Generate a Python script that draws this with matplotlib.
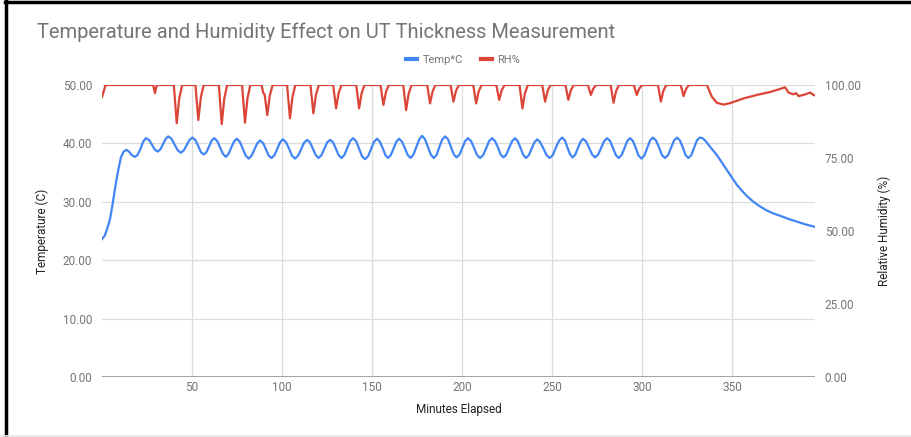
import matplotlib
matplotlib.use("Agg")
import matplotlib.pyplot as plt
from matplotlib.lines import Line2D

plt.rcParams['font.family'] = ['Roboto', 'DejaVu Sans']

title = "Temperature and Humidity Effect on UT Thickness Measurement"
x_label = "Minutes Elapsed"
y_left_label = "Temperature (C)"
y_right_label = "Relative Humidity (%)"
series_names = ["Temp*C", "RH%"]
x_ticks = [50, 100, 150, 200, 250, 300, 350]
y_left_ticks = [0, 10, 20, 30, 40, 50]
y_right_ticks = [0, 25, 50, 75, 100]

temp_minutes = [
    0, 1.5, 3, 4.5, 6, 7.5, 9, 10.5, 12, 13.7, 15, 16.5, 18.3, 19.7, 21.3, 22.9, 24.4,
    26.1, 27.7, 29.4, 31.0, 32.5, 33.9, 35.4, 36.8,
    38.6, 40.3, 42.1, 43.8, 45.4, 47.0, 48.6, 50.2,
    51.8, 53.4, 54.9, 56.5, 58.0, 59.5, 60.9, 62.4,
    64.0, 65.6, 67.2, 68.8, 70.3, 71.8, 73.3, 74.8,
    76.5, 78.2, 79.8, 81.5, 83.1, 84.7, 86.2, 87.8,
    88.6, 89.6, 91.0, 92.6, 94.2, 95.8, 97.4, 98.9, 100.5,
    102.2, 103.9, 105.5, 107.2, 108.9, 110.6, 112.2, 113.9,
    115.5, 117.1, 118.7, 120.3, 121.9, 123.5, 125.1, 126.7,
    128.3, 129.9, 131.4, 133.0, 134.6, 136.2, 137.8, 139.4,
    141.1, 142.8, 144.4, 146.1, 147.8, 149.5, 151.1, 152.8,
    154.3, 155.9, 157.4, 158.9, 160.4, 162.0, 163.5, 165.0,
    166.6, 168.2, 169.8, 171.4, 173.0, 174.6, 176.2, 177.8,
    179.4, 181.0, 182.6, 184.2, 185.8, 187.4, 189.0, 190.6,
    192.2, 193.8, 195.4, 197.0, 198.6, 200.2, 201.7, 203.3,
    205.0, 206.7, 208.3, 210.0, 211.7, 213.4, 215.0, 216.7,
    218.3, 219.9, 221.4, 223.0, 224.6, 226.2, 227.8, 229.4,
    230.9, 232.5, 234.0, 235.5, 237.1, 238.6, 240.2, 241.7,
    243.4, 245.2, 246.9, 248.6, 250.4, 252.1, 253.9, 255.6,
    257.1, 258.5, 260.0, 261.4, 262.9, 264.3, 265.8, 267.2,
    268.9, 270.6, 272.2, 273.9, 275.6, 277.3, 278.9, 280.6,
    282.2, 283.8, 285.4, 287.0, 288.6, 290.2, 291.7, 293.3,
    294.9, 296.5, 298.0, 299.6, 301.2, 302.8, 304.4, 306.0,
    307.7, 309.4, 311.0, 312.7, 314.4, 316.1, 317.7, 319.4,
    321.0, 322.6, 324.1, 325.7, 327.3, 328.9, 330.4, 332.0,
    333.5, 335.0, 337.8, 341.5, 345.2, 348.9, 352.6, 356.3,
    358.5, 361.8, 365.0, 369.3, 373.0, 376.7, 381.0, 385.9, 390.0, 396.0,
]
temp_values = [
    23.6, 24.2, 25.5, 27.1, 29.8, 32.8, 35.4, 37.6, 38.6, 38.9, 38.6, 38.0, 37.7, 38.0, 39.0, 40.3, 40.9,
    40.6, 39.8, 38.9, 38.6, 39.0, 39.9, 40.8, 41.2,
    40.8, 39.8, 38.8, 38.4, 38.8, 39.7, 40.6, 41.0,
    40.6, 39.6, 38.5, 38.1, 38.5, 39.5, 40.5, 40.9,
    40.4, 39.3, 38.2, 37.7, 38.2, 39.3, 40.3, 40.8,
    40.3, 39.1, 37.9, 37.4, 37.9, 39.0, 40.0, 40.5,
    40.3, 40.0, 39.0, 37.9, 37.5, 38.0, 39.1, 40.2, 40.7,
    40.2, 39.1, 37.9, 37.4, 37.9, 39.0, 40.1, 40.6,
    40.2, 39.1, 38.0, 37.5, 38.0, 39.1, 40.2, 40.6,
    40.2, 39.1, 38.0, 37.5, 38.0, 39.2, 40.4, 40.9,
    40.4, 39.1, 37.8, 37.3, 37.8, 39.1, 40.3, 40.8,
    40.3, 39.2, 38.0, 37.5, 38.0, 39.2, 40.3, 40.8,
    40.3, 39.2, 38.0, 37.5, 38.1, 39.4, 40.7, 41.3,
    40.7, 39.4, 38.1, 37.5, 38.0, 39.4, 40.7, 41.2,
    40.7, 39.4, 38.1, 37.6, 38.1, 39.3, 40.4, 40.9,
    40.4, 39.2, 38.0, 37.5, 38.0, 39.2, 40.4, 40.9,
    40.4, 39.3, 38.1, 37.6, 38.1, 39.3, 40.4, 40.9,
    40.4, 39.2, 38.0, 37.5, 38.0, 39.1, 40.2, 40.7,
    40.2, 39.1, 38.0, 37.5, 38.0, 39.3, 40.5, 41.0,
    40.5, 39.3, 38.1, 37.6, 38.1, 39.2, 40.3, 40.8,
    40.3, 39.2, 38.1, 37.6, 38.1, 39.3, 40.4, 40.9,
    40.4, 39.2, 38.0, 37.5, 38.0, 39.2, 40.4, 40.9,
    40.4, 39.2, 37.9, 37.4, 37.9, 39.2, 40.5, 41.0,
    40.5, 39.3, 38.0, 37.5, 38.0, 39.3, 40.5, 41.0,
    40.5, 39.3, 38.0, 37.5, 38.0, 39.3, 40.5, 41.0,
    40.9, 40.5, 39.4, 38.0, 36.3, 34.6, 32.9, 31.6,
    30.9, 30.0, 29.3, 28.5, 28.0, 27.6, 27.1, 26.6, 26.2, 25.7,
]

rh_minutes = [
    0, 2, 28.4, 29.4, 30.4,
    39.9, 41.5, 42.9, 44.5,
    51.9, 53.5, 54.9, 56.5,
    64.9, 66.5, 67.9, 69.5,
    77.8, 79.4, 80.8, 82.4,
    88.6, 89.6, 90.3, 91.8, 93.2, 94.8,
    102.8, 104.4, 105.8, 107.4,
    115.8, 117.4, 118.8, 120.4,
    128.4, 130.0, 131.4, 133.0,
    141.2, 142.8, 144.2, 145.8,
    154.7, 156.3, 157.7, 159.3,
    167.3, 168.9, 170.3, 171.9,
    180.6, 182.2, 183.6, 185.2,
    193.6, 195.2, 196.6, 198.2,
    206.2, 207.8, 209.2, 210.8,
    219.0, 220.6, 222.0, 223.6,
    231.9, 233.5, 234.9, 236.5,
    244.5, 246.1, 247.5, 249.1,
    257.4, 259.0, 260.4, 262.0,
    269.9, 271.5, 272.9, 274.5,
    282.5, 284.1, 285.5, 287.1,
    295.4, 297.0, 298.4, 300.0,
    308.8, 310.4, 311.8, 313.4,
    321.4, 323.0, 324.4, 326.0,
    335.9, 338.7, 341.5, 345.2, 348.9, 356.3, 363.7, 371.1,
    379.4, 381.3, 384.0, 385.5, 386.9, 389.6, 393.3, 395.2, 396.0,
]
rh_values = [
    95.9, 100, 100, 97.2, 100,
    100, 86.9, 95.4, 100,
    100, 88.0, 95.8, 100,
    100, 86.6, 95.3, 100,
    100, 87.1, 95.5, 100,
    100, 97.2, 96.8, 89.7, 96.4, 100,
    100, 88.6, 96.0, 100,
    100, 90.3, 96.6, 100,
    100, 92.0, 97.2, 100,
    100, 92.0, 97.2, 100,
    100, 93.2, 97.6, 100,
    100, 91.4, 97.0, 100,
    100, 93.7, 97.8, 100,
    100, 94.3, 98.0, 100,
    100, 93.7, 97.8, 100,
    100, 94.9, 98.2, 100,
    100, 92.0, 97.2, 100,
    100, 94.3, 98.0, 100,
    100, 94.9, 98.2, 100,
    100, 96.6, 98.8, 100,
    100, 93.9, 97.9, 100,
    100, 96.6, 98.8, 100,
    100, 94.3, 98.0, 100,
    100, 96.2, 98.7, 100,
    100, 96.0, 93.9, 93.3, 93.8, 95.4, 96.6, 97.6,
    99.2, 97.4, 96.8, 97.2, 96.2, 96.6, 97.4, 96.6, 96.4,
]

BLUE = "#4285F4"
RED = "#DB4437"
TICK_GRAY = "#757575"
GRID = "#dcdcdc"

W, H = 911, 437
fig = plt.figure(figsize=(W / 100, H / 100), dpi=100)
fig.patch.set_facecolor("white")

L, R, T, B = 102, 815, 85, 377
ax = fig.add_axes([L / W, 1 - B / H, (R - L) / W, (B - T) / H])
ax2 = ax.twinx()

ax.plot(temp_minutes, temp_values, color=BLUE, lw=1.6, solid_joinstyle="round", zorder=3)
ax2.plot(rh_minutes, rh_values, color=RED, lw=1.6, solid_joinstyle="round", zorder=3)

ax.set_xlim(0, 396)
ax.set_ylim(0, 50)
ax2.set_ylim(0, 100)

ax.set_xticks(x_ticks)
ax.set_xticklabels([str(v) for v in x_ticks])
ax.set_yticks(y_left_ticks)
ax.set_yticklabels(["%.2f" % v for v in y_left_ticks])
ax2.set_yticks(y_right_ticks)
ax2.set_yticklabels(["%.2f" % v for v in y_right_ticks])

for a in (ax, ax2):
    for s in a.spines.values():
        s.set_visible(False)
    a.tick_params(length=0, labelsize=8.5, labelcolor=TICK_GRAY)
ax.tick_params(axis="y", pad=7)
ax2.tick_params(axis="y", pad=7)
ax.tick_params(axis="x", pad=3)

ax.grid(True, color=GRID, lw=0.9)
ax.set_axisbelow(True)
ax.axhline(0, color="#8a8a8a", lw=1.8, zorder=2)

fig.text(37 / W, 1 - 32 / H, title, fontsize=14.5, color="#757575", ha="left", va="center")
fig.text((L + R) / 2 / W, 1 - 409 / H, x_label, fontsize=8.5, color="#222222", ha="center", va="center")
fig.text(42 / W, 1 - 231 / H, y_left_label, fontsize=8.5, color="#222222", rotation=90, ha="center", va="center")
fig.text(884 / W, 1 - 231 / H, y_right_label, fontsize=8.5, color="#222222", rotation=90, ha="center", va="center")

handles = [Line2D([0], [0], color=BLUE, lw=3), Line2D([0], [0], color=RED, lw=3)]
fig.legend(handles, series_names, loc="center", bbox_to_anchor=(463 / W, 1 - 60 / H), ncol=2,
           frameon=False, fontsize=8, handlelength=1.0, handletextpad=0.5, columnspacing=1.6,
           labelcolor="#757575")

# page frame
fig.add_artist(Line2D([5 / W, 1], [1 - 2 / H, 1 - 2 / H], transform=fig.transFigure, color="black", lw=2.5))
fig.add_artist(Line2D([6 / W, 6 / W], [1 - 435 / H, 1], transform=fig.transFigure, color="black", lw=2.5))
fig.add_artist(Line2D([0, 1], [1 - 435.5 / H, 1 - 435.5 / H], transform=fig.transFigure, color="#e6e6e6", lw=1.2))

fig.savefig("out.png", dpi=100)
